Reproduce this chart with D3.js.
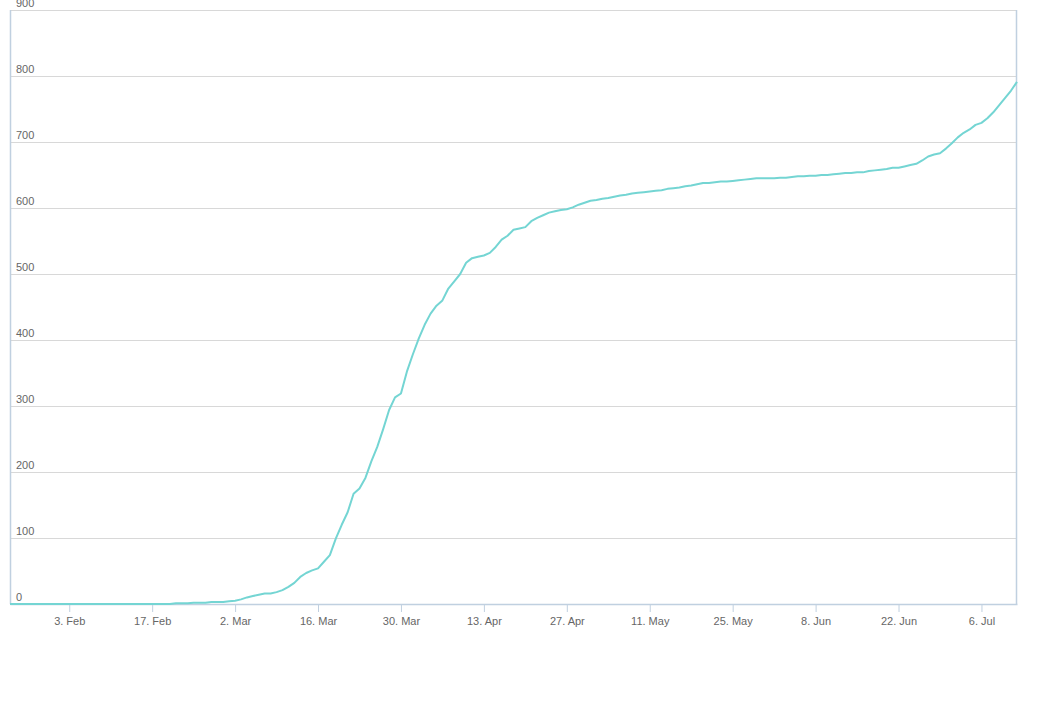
<!DOCTYPE html>
<html>
<head>
<meta charset="utf-8">
<script src="https://cdn.jsdelivr.net/npm/d3@7"></script>
<style>
  body { margin: 0; background: #fff; }
  text { font-family: "Liberation Sans", Arial, sans-serif; }
</style>
</head>
<body>
<script>
var margin = { top: 10, right: 40, bottom: 104, left: 10 },
    width = 1057 - margin.left - margin.right,
    height = 708 - margin.top - margin.bottom;

// first day of the series, one value per day after it
var startDay = new Date(2020, 0, 24);
var values = [
    0, 0, 0, 0, 0, 0, 0, 0, 0, 0, 0, 0, 0, 0, 0, 0, 0, 0, 0, 0, 0, 0, 0, 0, 0,
    0, 0, 0, 1, 1, 1, 2, 2, 2, 3, 3, 3, 4, 5, 7, 10, 12, 14, 16, 16, 18, 21, 26, 32,
    41, 47, 51, 54, 64, 74, 99, 120, 139, 167, 175, 191, 216, 238, 265, 294, 313, 319,
    352, 378, 402, 423, 440, 452, 460, 478, 489, 500, 517, 524, 526, 528, 532, 541,
    552, 558, 567, 569, 571, 580, 585, 589, 593, 595, 597, 598, 601, 605, 608, 611,
    612, 614, 615, 617, 619, 620, 622, 623, 624, 625, 626, 627, 629, 630, 631, 633,
    634, 636, 638, 638, 639, 640, 640, 641, 642, 643, 644, 645, 645, 645, 645, 646,
    646, 647, 648, 648, 649, 649, 650, 650, 651, 652, 653, 653, 654, 654, 656, 657,
    658, 659, 661, 661, 663, 665, 667, 672, 678, 681, 683, 690, 698, 707, 714, 719,
    726, 729, 736, 745, 756, 767, 778, 791
];
var tickDates = [
    new Date(2020, 1, 3), new Date(2020, 1, 17), new Date(2020, 2, 2), new Date(2020, 2, 16),
    new Date(2020, 2, 30), new Date(2020, 3, 13), new Date(2020, 3, 27), new Date(2020, 4, 11),
    new Date(2020, 4, 25), new Date(2020, 5, 8), new Date(2020, 5, 22), new Date(2020, 6, 6)
];
var tickLabels = ['3. Feb', '17. Feb', '2. Mar', '16. Mar', '30. Mar', '13. Apr',
    '27. Apr', '11. May', '25. May', '8. Jun', '22. Jun', '6. Jul'];
var yTicks = [0, 100, 200, 300, 400, 500, 600, 700, 800, 900];

var data = values.map(function (v, i) {
    return { date: d3.timeDay.offset(startDay, i), value: v };
});

var svg = d3
    .select('body')
    .append('svg')
    .attr('width', 1057)
    .attr('height', 708)
    .append('g')
    .attr('transform', 'translate(' + margin.left + ',' + margin.top + ')');

var xScale = d3.scaleTime()
    .domain(d3.extent(data, function (d) { return d.date; }))
    .range([0, width]);
var yScale = d3.scaleLinear().domain([0, 900]).range([height, 0]);

// grid lines and y labels
svg.append('g')
    .selectAll('line')
    .data(yTicks.slice(1))
    .enter()
    .append('line')
    .attr('x1', 0)
    .attr('x2', width)
    .attr('y1', function (d) { return Math.round(yScale(d)) + 0.5; })
    .attr('y2', function (d) { return Math.round(yScale(d)) + 0.5; })
    .attr('stroke', '#d8d8d8')
    .attr('stroke-width', 1);

svg.append('g')
    .selectAll('text')
    .data(yTicks)
    .enter()
    .append('text')
    .attr('x', 6)
    .attr('y', function (d) { return yScale(d) - 3; })
    .attr('font-size', 11)
    .attr('fill', '#666')
    .text(function (d) { return d; });

// x axis
var xAxis = svg.append('g')
    .attr('transform', 'translate(0,' + height + ')')
    .call(d3.axisBottom(xScale)
        .tickValues(tickDates)
        .tickSize(8)
        .tickSizeOuter(0)
        .tickPadding(5)
        .tickFormat(function (d, i) { return tickLabels[i]; }));
xAxis.select('.domain').attr('stroke', '#c0d0e0').attr('stroke-width', 1.5);
xAxis.selectAll('.tick line').attr('stroke', '#c0d0e0');
xAxis.selectAll('.tick text')
    .attr('font-family', '"Liberation Sans", Arial, sans-serif')
    .attr('font-size', 11)
    .attr('fill', '#666');

// left and right axis lines
svg.append('line')
    .attr('x1', 0.5).attr('x2', 0.5)
    .attr('y1', 0).attr('y2', height)
    .attr('stroke', '#c0d0e0').attr('stroke-width', 1.5);
svg.append('line')
    .attr('x1', width - 0.5).attr('x2', width - 0.5)
    .attr('y1', 0).attr('y2', height)
    .attr('stroke', '#c0d0e0').attr('stroke-width', 1.5);

// the series
var line = d3.line()
    .x(function (d) { return xScale(d.date); })
    .y(function (d) { return yScale(d.value); });

svg.append('path')
    .datum(data)
    .attr('fill', 'none')
    .attr('stroke', '#74d5d3')
    .attr('stroke-width', 2)
    .attr('stroke-linejoin', 'round')
    .attr('d', line);
</script>
</body>
</html>
